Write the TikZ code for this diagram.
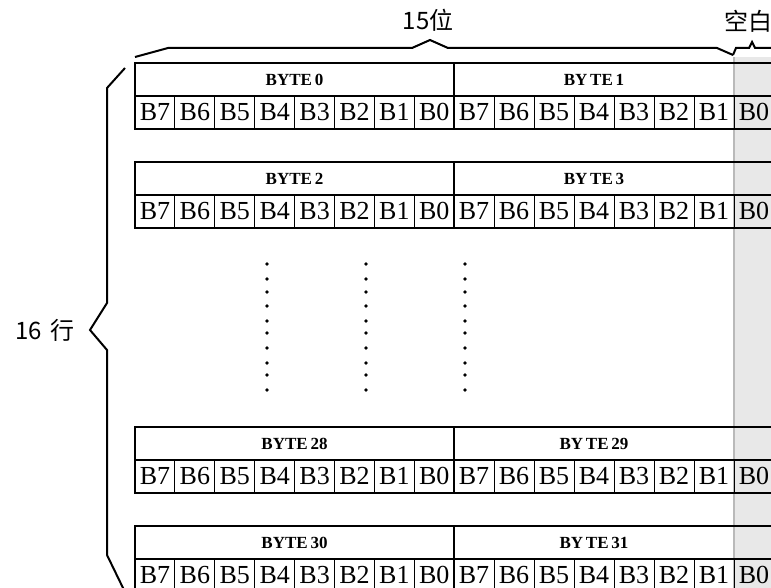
\documentclass[tikz,border=0pt]{standalone}
\usepackage{fontspec}
\setmainfont{Liberation Serif}
\newfontfamily\cjk{Noto Sans CJK SC}
\usepackage{tikz}

\begin{document}
\begin{tikzpicture}[x=1pt,y=-1pt,
    blockline/.style={line width=2.4pt},
    bitline/.style={line width=1pt},
    braceline/.style={line width=2pt,line join=miter},
    bitlabel/.style={inner sep=0pt,font=\fontsize{26}{26}\selectfont},
    bytelabel/.style={inner sep=0pt,font=\fontsize{17}{17}\selectfont\bfseries},
    cjklabel/.style={inner sep=0pt,font=\fontsize{24}{24}\selectfont\cjk}]
    \clip(0,0)rectangle(771,588);

    % blank column
    \fill[gray!18](733,57)rectangle(775,590);
    \draw[gray!55,line width=1.8pt](734,57)--(734,590);

    % byte rows
    \foreach \t/\a/\b in {63/0/1,162/2/3,427/28/29,526/30/31}{
        \foreach \k [evaluate=\k as \n using int(7-\k)] in {0,...,7}{
            \node[bitlabel](l\a-\n) at ({135+39.9*\k+20},{\t+49}){B\n};
            \node[bitlabel](r\b-\n) at ({454+40*\k+20},{\t+49}){B\n};
        }
        \foreach \k in {1,...,7}{
            \draw[bitline]({135+39.9*\k},{\t+33})--({135+39.9*\k},{\t+66});
            \draw[bitline]({454+40*\k},{\t+33})--({454+40*\k},{\t+66});
        }
        \draw[blockline](135,\t)rectangle(776,{\t+66});
        \draw[blockline](135,{\t+33})--(776,{\t+33});
        \draw[blockline](454,\t)--(454,{\t+66});
        \node[bytelabel](h\a) at (294.5,{\t+16.5}){BYTE\,\a};
        \node[bytelabel](h\b) at (594,{\t+16.5}){BY\,TE\,\b};
    }

    % skipped rows
    \foreach \x in {267,366,465}
        \foreach \y in {264,279,292,306,321,333,348,363,375,390}
            \fill(\x,\y)circle(1.9pt);

    % braces
    \draw[braceline](135,57)--(168,48)--(412,48)--(430,40)--(448,48)--(717,48)--(733,55);
    \draw[braceline](733,55)--(736,48)--(749,48)--(752,42)--(755,48)--(772,48);
    \draw[braceline](125,68)--(107,88)--(107,303)--(90,330)--(107,350)--(107,555)--(125,592);
    \node[cjklabel](bits) at (428,20){15位};
    \node[cjklabel](blank) at (748,21){空白};
    \node[cjklabel](rows) at (45,330){16\,\,行};
\end{tikzpicture}
\end{document}
